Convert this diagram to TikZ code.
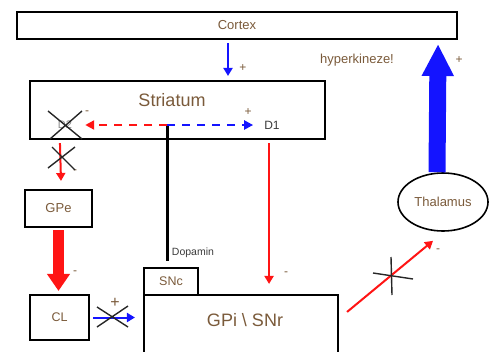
\documentclass[tikz,border=0pt]{standalone}
\usepackage{fontspec}
\setmainfont{Liberation Sans}
\usetikzlibrary{positioning, arrows.meta, calc, shapes.geometric}
\definecolor{txtBrown}{HTML}{7a5a3a}
\definecolor{sigBlue}{HTML}{1414ff}
\definecolor{sigRed}{HTML}{ff1414}
\definecolor{labGrey}{HTML}{3a3a3a}
\newcommand{\fsz}[1]{\fontsize{#1}{#1}\selectfont}

\begin{document}
\begin{tikzpicture}[x=1pt, y=-1pt,
  box/.style={draw, line width=2.1pt, inner sep=0pt, text=txtBrown},
  txt/.style={inner sep=0pt, text=txtBrown},
  sig/.style={inner sep=0pt, text=txtBrown, font=\fsz{12}},
  blueArr/.style={draw=sigBlue, line width=2pt, -{Triangle[length=8pt,width=9pt]}},
  redArr/.style={draw=sigRed, line width=2pt, -{Triangle[length=8pt,width=9pt]}},
  dashArr/.style={line width=2.2pt, dash pattern=on 8pt off 7pt, -{Triangle[length=9pt,width=9pt]}},
  crossLn/.style={line width=1.4pt, black!85}]
\useasboundingbox (0,0) rectangle (492,351);
\clip (0,0) rectangle (492,351);
% boxes
\node[box, minimum width=440pt, minimum height=27pt, font=\fsz{13}] (cortex) at (237,25.5) {Cortex};
\node[box, minimum width=295pt, minimum height=58pt] (striatum) at (177.5,110) {};
\node[txt, font=\fsz{18}] (strlbl) at (172,100) {Striatum};
\node[box, minimum width=67pt, minimum height=37pt, font=\fsz{13}] (gpe) at (58.5,208.5) {GPe};
\node[box, minimum width=59pt, minimum height=45pt, font=\fsz{12.5}] (cl) at (59.5,317.5) {CL};
\node[box, minimum width=54pt, minimum height=27pt, font=\fsz{12.5}] (snc) at (171,281.5) {SNc};
\node[box, minimum width=194pt, minimum height=65pt] (gpi) at (241,327.5) {};
\node[txt, font=\fsz{18}] (gpilbl) at (245,320) {GPi \textbackslash{} SNr};
\node[box, ellipse, line width=1.6pt, minimum width=90pt, minimum height=58pt, font=\fsz{13}] (thal) at (443,202) {Thalamus};
% labels
\node[txt, font=\fsz{13}] (hyper) at (357,60) {hyperkineze!};
\node[txt, text=black!45, font=\fsz{11}] (d2) at (65,125) {D2};
\node[txt, text=labGrey, font=\fsz{12}] (d1) at (272,125) {D1};
\node[txt, text=labGrey, font=\fsz{10.5}] (dopa) at (193,253) {Dopamin};
\node[sig] (pCtx) at (243,68) {+};
\node[sig] (pD1) at (248,112) {+};
\node[sig] (mD2) at (87,113) {-};
\node[sig] (mGpe) at (75,172) {-};
\node[sig] (mCl) at (75,273) {-};
\node[sig, font=\fsz{16}] (pCl) at (115,303) {+};
\node[sig] (mGpi) at (286,274) {-};
\node[sig] (mThal) at (438,251) {-};
\node[sig] (pThal) at (459,60) {+};
% dopamine
\coordinate (dop) at (167,125);
\draw[line width=3pt] ([xshift=-4pt,yshift=6pt]snc.north) -- (dop);
\draw[dashArr, sigRed] (dop) -- ([xshift=13pt]d2.east);
\draw[dashArr, sigBlue] (dop) -- ([xshift=-11pt]d1.west);
% connectors
\draw[blueArr] ([xshift=-9pt,yshift=-3pt]cortex.south) -- ([xshift=50.5pt,yshift=4pt]striatum.north);
\draw[redArr] ([xshift=31pt,yshift=-3pt]striatum.south west) -- ([xshift=2.5pt,yshift=8pt]gpe.north);
\draw[sigRed, line width=11pt, -{Triangle[length=17pt,width=22pt]}] ([yshift=-2pt]gpe.south) -- ($(gpe.south |- cl.north)+(0,-3)$);
\draw[blueArr] ([xshift=3pt]cl.east) -- ($(cl.east -| gpi.west)+(-8,0)$);
\draw[redArr] ([xshift=-57pt,yshift=-3pt]striatum.south east) -- ([xshift=-70pt,yshift=10pt]gpi.north east);
\draw[redArr] ([xshift=8pt,yshift=-18pt]gpi.north east) -- ([xshift=-10pt,yshift=-9pt]thal.south);
\draw[sigBlue, line width=17pt, -{Triangle[length=32pt,width=30pt]}] ([xshift=-6pt]thal.north) -- ([xshift=-20pt,yshift=-4pt]cortex.south east);
% blocked paths
\draw[crossLn] (48,111) -- (82,139) (50,139) -- (82,111);
\draw[crossLn] (52,147) -- (75,170) (48,168) -- (75,147);
\draw[crossLn] (97,307) -- (128,327) (97,327) -- (128,306);
\draw[crossLn] (373,273) -- (413,279) (391,257) -- (392,295);
\end{tikzpicture}
\end{document}
